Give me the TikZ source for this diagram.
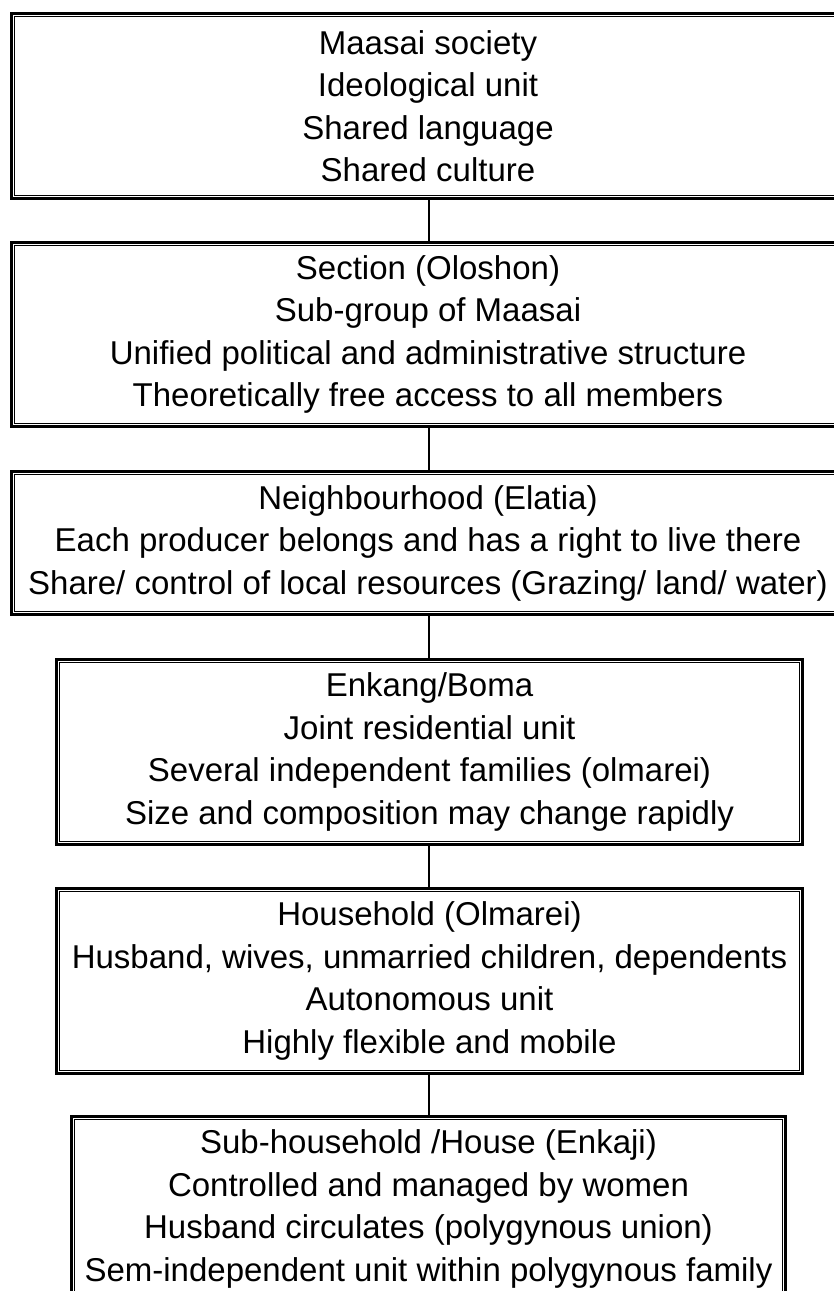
\documentclass[tikz,border=0pt]{standalone}
\usepackage{fontspec}
\setmainfont{Liberation Sans}
\begin{document}
\begin{tikzpicture}[x=1pt,y=-1pt,
  lvl/.style={draw=black, line width=3.4pt, fill=white, inner sep=0pt,
    align=center, font=\fontsize{33}{42.5}\selectfont},
  inner/.style={draw=black, line width=1.1pt},
  link/.style={draw=black, line width=1.6pt}]
\useasboundingbox (0,0) rectangle (834,1291);
\clip (0,0) rectangle (834,1291);
\fill[white] (0,0) rectangle (834,1291);

\node[lvl, minimum width=832.6pt, minimum height=184.6pt] (b1) at (428,106)
  {Maasai society\\Ideological unit\\Shared language\\Shared culture};
\node[lvl, minimum width=832.6pt, minimum height=183.6pt] (b2) at (428,334.5)
  {Section (Oloshon)\\Sub-group of Maasai\\Unified political and administrative structure\\Theoretically free access to all members};
\node[lvl, minimum width=832.6pt, minimum height=142.6pt] (b3) at (428,543)
  {Neighbourhood (Elatia)\\Each producer belongs and has a right to live there\\Share/ control of local resources (Grazing/ land/ water)};
\node[lvl, minimum width=745.6pt, minimum height=184.6pt] (b4) at (429.5,752)
  {Enkang/Boma\\Joint residential unit\\Several independent families (olmarei)\\Size and composition may change rapidly};
\node[lvl, minimum width=745.6pt, minimum height=184.6pt] (b5) at (429.5,981)
  {Household (Olmarei)\\Husband, wives, unmarried children, dependents\\Autonomous unit\\Highly flexible and mobile};
\node[lvl, minimum width=713.6pt, minimum height=184.6pt] (b6) at (428.5,1209)
  {Sub-household /House (Enkaji)\\Controlled and managed by women\\Husband circulates (polygynous union)\\Sem-independent unit within polygynous family};

\foreach \b in {b1,b2,b3,b4,b5,b6}{
  \draw[inner] ([shift={(4.3,4.3)}]\b.north west) rectangle ([shift={(-4.3,-4.3)}]\b.south east);
}

\foreach \a/\c in {b1/b2,b2/b3,b3/b4,b4/b5,b5/b6}{
  \draw[link] ([yshift=1.7pt]\a.south -| 429,0) -- ([yshift=-1.7pt]\c.north -| 429,0);
}
\end{tikzpicture}
\end{document}
